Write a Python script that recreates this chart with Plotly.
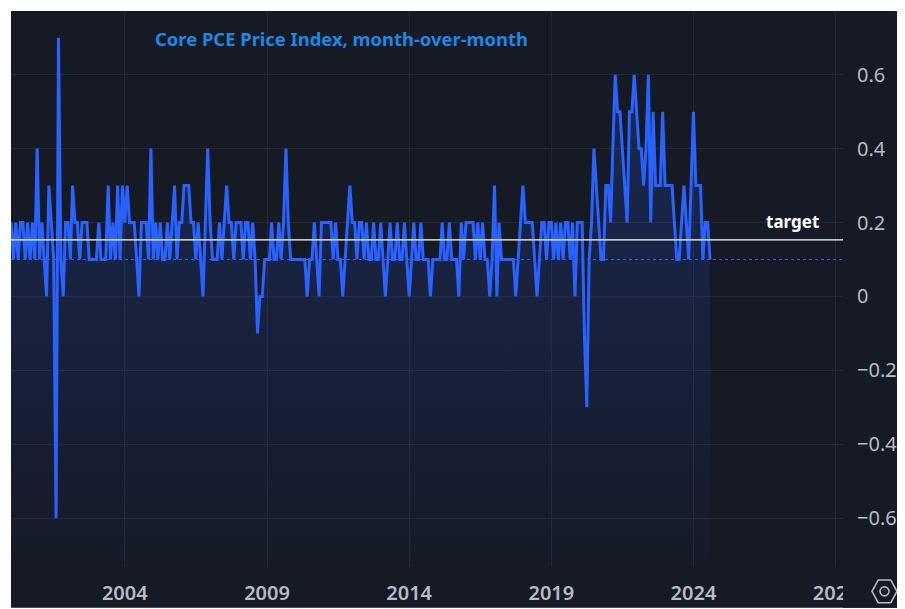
import pandas as pd
import plotly.graph_objects as go

# Core PCE month-over-month (%), Jan 2000 .. Aug 2024
values_2000_2004 = [
    0.2, 0.1, 0.2, 0.1, 0.2, 0.2, 0.1, 0.2, 0.1, 0.2, 0.1, 0.4,
    0.1, 0.2, 0.1, 0.0, 0.3, 0.2, 0.1, -0.6, 0.7, 0.1, 0.0, 0.2,
    0.2, 0.1, 0.3, 0.2, 0.2, 0.1, 0.2, 0.2, 0.2, 0.1, 0.1, 0.1,
    0.1, 0.2, 0.1, 0.1, 0.1, 0.3, 0.1, 0.2, 0.1, 0.3, 0.1, 0.3,
    0.2, 0.3, 0.2, 0.2, 0.2, 0.1, 0.0, 0.2, 0.2, 0.2, 0.1, 0.4,
]
values_2005_2009 = [
    0.1, 0.2, 0.1, 0.2, 0.1, 0.1, 0.2, 0.1, 0.2, 0.3, 0.1, 0.2,
    0.2, 0.3, 0.3, 0.3, 0.2, 0.2, 0.1, 0.2, 0.1, 0.0, 0.2, 0.4,
    0.2, 0.1, 0.1, 0.1, 0.2, 0.1, 0.2, 0.3, 0.2, 0.2, 0.1, 0.2,
    0.2, 0.2, 0.1, 0.2, 0.2, 0.1, 0.2, 0.1, -0.1, 0.0, 0.0, 0.1,
    0.1, 0.1, 0.2, 0.1, 0.1, 0.2, 0.1, 0.2, 0.4, 0.2, 0.1, 0.1,
]
values_2010_2014 = [
    0.1, 0.1, 0.1, 0.1, 0.1, 0.0, 0.1, 0.1, 0.2, 0.1, 0.0, 0.2,
    0.2, 0.2, 0.2, 0.2, 0.1, 0.2, 0.1, 0.1, 0.0, 0.1, 0.2, 0.3,
    0.2, 0.2, 0.1, 0.2, 0.2, 0.1, 0.2, 0.1, 0.1, 0.2, 0.1, 0.1,
    0.2, 0.1, 0.0, 0.1, 0.2, 0.1, 0.1, 0.2, 0.1, 0.1, 0.2, 0.1,
    0.0, 0.1, 0.2, 0.1, 0.1, 0.2, 0.1, 0.1, 0.1, 0.0, 0.1, 0.1,
]
values_2015_2019 = [
    0.1, 0.1, 0.2, 0.1, 0.1, 0.2, 0.1, 0.1, 0.1, 0.0, 0.2, 0.1,
    0.2, 0.2, 0.2, 0.2, 0.1, 0.2, 0.1, 0.2, 0.1, 0.1, 0.0, 0.1,
    0.3, 0.0, 0.2, 0.1, 0.1, 0.1, 0.1, 0.1, 0.1, 0.0, 0.1, 0.2,
    0.3, 0.2, 0.2, 0.2, 0.2, 0.1, 0.0, 0.1, 0.2, 0.2, 0.1, 0.2,
    0.2, 0.1, 0.2, 0.1, 0.2, 0.1, 0.2, 0.2, 0.1, 0.2, 0.0, 0.2,
]
values_2020_2024 = [
    0.2, 0.2, -0.1, -0.3, 0.1, 0.2, 0.4, 0.3, 0.2, 0.1, 0.1, 0.3,
    0.3, 0.2, 0.4, 0.6, 0.5, 0.5, 0.4, 0.3, 0.2, 0.5, 0.5, 0.6,
    0.5, 0.4, 0.4, 0.3, 0.4, 0.6, 0.2, 0.5, 0.3, 0.3, 0.3, 0.5,
    0.3, 0.3, 0.3, 0.3, 0.2, 0.1, 0.1, 0.2, 0.3, 0.2, 0.1, 0.3,
    0.5, 0.3, 0.3, 0.3, 0.1, 0.2, 0.2, 0.1,
]
start_month = "2000-01-01"
target_value = 0.153
title_text = "Core PCE Price Index, month-over-month"
target_label = "target"

values = values_2000_2004 + values_2005_2009 + values_2010_2014 + values_2015_2019 + values_2020_2024
dates = pd.date_range(start_month, periods=len(values), freq="MS")

BG = "#161a25"
GRID = "#242835"
BLUE = "#2962ff"
TXT = "#b8bbc4"
FONT = "Noto Sans"

# page body has an 8px margin; figure occupies window pixels 8..905 / 8..609
OFF = 8
WIN_W, WIN_H = 905, 609
W, H = WIN_W - OFF, WIN_H - OFF
ML, MR, MT, MB = 11 - OFF, WIN_W - 843, 11 - OFF, WIN_H - 570
pw = W - ML - MR
ph = H - MT - MB


def px_x(px):
    # window pixel -> paper x
    return (px - OFF - ML) / pw


def px_y(py):
    # window pixel -> paper y
    return (H - MB - (py - OFF)) / ph


y_lo, y_hi = -0.7322, 0.7725

fig = go.Figure()

# baseline at the bottom of the pane for the area fill
fig.add_trace(go.Scatter(
    x=[dates[0], dates[-1]], y=[y_lo - 0.01, y_lo - 0.01],
    mode="lines", line=dict(width=0), hoverinfo="skip", showlegend=False,
))
fig.add_trace(go.Scatter(
    x=dates, y=values, mode="lines",
    line=dict(color=BLUE, width=3),
    fill="tonexty",
    fillgradient=dict(
        type="vertical", start=y_lo, stop=0.7,
        colorscale=[[0, "rgba(41,98,255,0.01)"], [1, "rgba(41,98,255,0.22)"]],
    ),
    showlegend=False,
))

shapes = [
    # dark chart canvas (white strip remains at top and left)
    dict(type="rect", xref="paper", yref="paper", x0=0, x1=px_x(WIN_W + 2),
         y0=px_y(WIN_H + 2), y1=1, fillcolor=BG, line=dict(width=0), layer="below"),
    # target line
    dict(type="line", xref="paper", yref="y", x0=0, x1=1,
         y0=target_value, y1=target_value, line=dict(color="#ffffff", width=1.3)),
    # last value price line
    dict(type="line", xref="paper", yref="y", x0=0, x1=1,
         y0=values[-1], y1=values[-1], line=dict(color=BLUE, width=1, dash="dot")),
    # price-scale corner covering the clipped time label
    dict(type="rect", xref="paper", yref="paper", x0=1.0, x1=px_x(WIN_W + 2),
         y0=px_y(WIN_H + 2), y1=px_y(571), fillcolor=BG, line=dict(width=0), layer="above"),
]

# settings (hexagon) icon in the bottom-right corner
cx, cy, rx, ry = 884.5, 594.5, 12.5, 11.5
hx = [cx - rx, cx - rx / 2, cx + rx / 2, cx + rx, cx + rx / 2, cx - rx / 2]
hy = [cy, cy - ry, cy - ry, cy, cy + ry, cy + ry]
path = "M " + " L ".join(f"{px_x(a):.5f},{px_y(b):.5f}" for a, b in zip(hx, hy)) + " Z"
shapes.append(dict(type="path", xref="paper", yref="paper", path=path,
                   line=dict(color=TXT, width=1.6), layer="above"))
shapes.append(dict(type="circle", xref="paper", yref="paper",
                   x0=px_x(cx - 4.5), x1=px_x(cx + 4.5), y0=px_y(cy + 4.5), y1=px_y(cy - 4.5),
                   line=dict(color=TXT, width=1.6), layer="above"))

fig.update_layout(
    width=W, height=H,
    margin=dict(l=ML, r=MR, t=MT, b=MB, pad=0),
    paper_bgcolor="#ffffff",
    plot_bgcolor=BG,
    shapes=shapes,
    showlegend=False,
    title=dict(
        text=f"<b>{title_text}</b>",
        font=dict(family=FONT, size=18.4, color="#1e88e5"),
        xref="paper", x=px_x(155), xanchor="left",
        yref="container", y=1 - (40 - OFF) / H, yanchor="middle",
    ),
    annotations=[
        dict(text=f"<b>{target_label}</b>", xref="paper", x=px_x(821), xanchor="right",
             yref="y", y=target_value, yanchor="bottom", yshift=5,
             showarrow=False, font=dict(family=FONT, size=17, color="#ffffff")),
    ],
    xaxis=dict(
        type="date",
        range=["1999-12-31", "2029-04-05"],
        tick0="2004-01-01", dtick="M60", tickformat="%Y",
        showgrid=True, gridcolor=GRID, gridwidth=1,
        showline=False, zeroline=False, ticks="",
        ticklabelstandoff=12,
        tickfont=dict(family=FONT, size=20, color=TXT, weight=600),
    ),
    yaxis=dict(
        side="right",
        range=[y_lo, y_hi],
        tick0=0, dtick=0.2,
        showgrid=True, gridcolor=GRID, gridwidth=1,
        showline=False, zeroline=False, ticks="",
        ticklabelstandoff=13,
        tickfont=dict(family=FONT, size=20, color=TXT),
    ),
)

fig.write_html("out.html")
